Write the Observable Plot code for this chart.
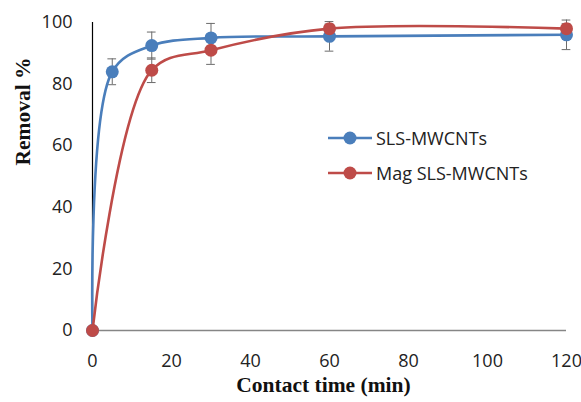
<!DOCTYPE html>
<html><head><meta charset="utf-8">
<script src="https://cdn.jsdelivr.net/npm/d3@7"></script>
<script src="https://cdn.jsdelivr.net/npm/@observablehq/plot@0.6"></script>
<style>
body{margin:0;background:#fff;}
#wrap{position:relative;width:581px;height:402px;}
.leg{position:absolute;left:327px;font-family:"Open Sans",Lato,sans-serif;font-size:18px;color:#222;display:flex;align-items:center;}
.leg svg{margin-right:3px;}
</style></head>
<body><div id="wrap"></div>
<script>
const seriesNames = ["SLS-MWCNTs", "Mag SLS-MWCNTs"];
const colors = ["#4A7EBB", "#BE4B48"];
const blueTime = [0, 5, 15, 30, 60, 120];
const blueRemoval = [0, 84, 92.5, 95, 95.5, 96];
const blueErr = [0, 4.2, 4.4, 4.7, 4.8, 4.8];
const redTime = [0, 15, 30, 60, 120];
const redRemoval = [0, 84.5, 91, 98, 98];
const redErr = [0, 4, 4.6, 1.5, 1.6];
const xTicks = [0, 20, 40, 60, 80, 100, 120];
const yTicks = [0, 20, 40, 60, 80, 100];
const xTitle = "Contact time (min)";
const yTitle = "Removal %";

const blue = blueTime.map((t,i)=>({x:t, y:blueRemoval[i], e:blueErr[i], s:seriesNames[0]}));
const red = redTime.map((t,i)=>({x:t, y:redRemoval[i], e:redErr[i], s:seriesNames[1]}));
const errs = [...blue, ...red].filter(d=>d.e>0);
const titleFont = "'Liberation Serif','Times New Roman',serif";

const chart = Plot.plot({
  width:581, height:402,
  marginLeft:92, marginRight:15, marginTop:22, marginBottom:72,
  style:{fontFamily:"'Open Sans', Lato, sans-serif", fontSize:"18px", color:"#222", background:"#fff"},
  x:{domain:[0,120]},
  y:{domain:[0,100]},
  marks:[
    Plot.ruleY([0], {stroke:"#868686", strokeWidth:1.5}),
    Plot.ruleX([0], {y1:0, y2:100, stroke:"#000", strokeWidth:1.2}),
    Plot.axisX({ticks:xTicks, tickSize:0, tickPadding:24, label:null}),
    Plot.axisY({ticks:yTicks, tickSize:0, tickPadding:20, label:null}),
    Plot.text([xTitle], {frameAnchor:"bottom", dx:-6, dy:61, text:d=>d, fontFamily:titleFont, fontWeight:"bold", fontSize:21.5, fill:"#111"}),
    Plot.text([yTitle], {frameAnchor:"left", dx:-69, dy:-11, rotate:-90, text:d=>d, fontFamily:titleFont, fontWeight:"bold", fontSize:21.5, fill:"#111"}),
    Plot.ruleX(errs, {x:"x", y1:d=>d.y-d.e, y2:d=>d.y+d.e, stroke:"#6b6b6b", strokeWidth:1}),
    Plot.ruleY(errs, {y:d=>d.y-d.e, x1:d=>d.x-1.1, x2:d=>d.x+1.1, stroke:"#6b6b6b", strokeWidth:1}),
    Plot.ruleY(errs, {y:d=>d.y+d.e, x1:d=>d.x-1.1, x2:d=>d.x+1.1, stroke:"#6b6b6b", strokeWidth:1}),
    Plot.line(blue, {x:"x", y:"y", stroke:colors[0], strokeWidth:2.6, curve:"catmull-rom"}),
    Plot.dot(blue, {x:"x", y:"y", r:6.5, fill:colors[0]}),
    Plot.line(red, {x:"x", y:"y", stroke:colors[1], strokeWidth:2.6, curve:"catmull-rom"}),
    Plot.dot(red, {x:"x", y:"y", r:6.5, fill:colors[1]})
  ]
});
document.getElementById("wrap").appendChild(chart);

const wrap = document.getElementById("wrap");
seriesNames.forEach((n,i)=>{
  const d = document.createElement("div");
  d.className="leg";
  d.style.top = (126 + i*35) + "px";
  d.innerHTML = `<svg width="46" height="24"><line x1="1" x2="45" y1="12" y2="12" stroke="${colors[i]}" stroke-width="2.6"/><circle cx="23" cy="12" r="6.5" fill="${colors[i]}"/></svg><span>${n}</span>`;
  wrap.appendChild(d);
});
</script></body></html>
